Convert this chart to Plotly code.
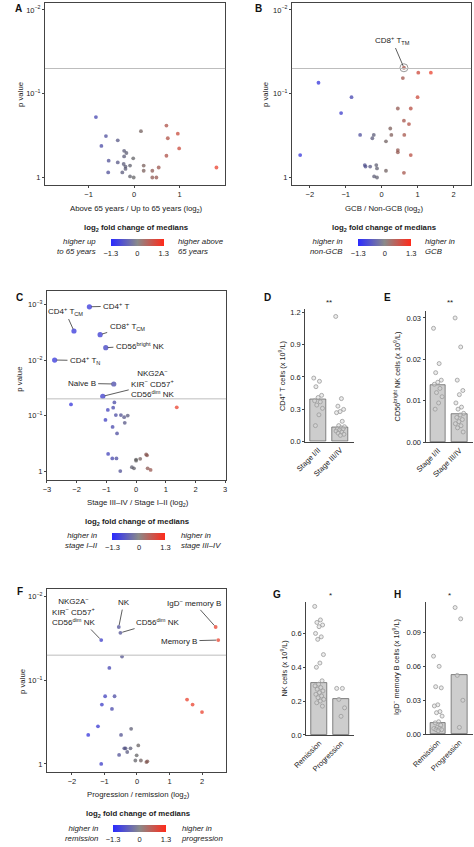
import numpy as np
import plotly.graph_objects as go

W, H = 474, 847
FONT = "Liberation Sans, Arial, sans-serif"


def fx(p):
    return p / W


def fy(p):
    return 1 - p / H


# ---------------- data ----------------
# Panel A: age
A_fc = [-0.84, -0.62, -0.72, -0.36, -0.56, -0.57, -0.36, -0.26, -0.22, -0.17, -0.22, -0.02, -0.23,
        -0.19, -0.09, -0.19, -0.09, -0.01, 0.15, 0.21, 0.21, 0.40, 0.40, 0.49, 0.54, 0.71, 0.74,
        0.71, 0.96, 0.99, 1.81]
A_p = [0.19, 0.32, 0.42, 0.36, 0.63, 0.87, 0.66, 0.87, 0.48, 0.51, 0.56, 0.59, 0.69, 0.74, 0.72,
       0.79, 0.97, 1.0, 0.28, 0.72, 0.83, 0.83, 1.0, 1.0, 0.76, 0.24, 0.34, 0.55, 0.30, 0.45, 0.76]

# Panel B: GCB / non-GCB
B_fc = [0.62, 1.02, 1.37, 0.59, -1.76, -0.84, 1.00, -1.13, 0.45, 0.81, 0.62, 0.76, 0.24, -0.60,
        -0.22, -0.26, 0.27, 0.63, 0.12, 0.45, 0.45, -2.27, 0.81, -0.47, -0.45, -0.32, -0.15, -0.13,
        0.12, 0.62, -0.21, -0.13]
B_p = [0.049, 0.056, 0.056, 0.065, 0.074, 0.11, 0.11, 0.17, 0.15, 0.15, 0.21, 0.23, 0.26, 0.31,
       0.31, 0.34, 0.31, 0.31, 0.37, 0.47, 0.50, 0.54, 0.54, 0.71, 0.74, 0.74, 0.71, 0.78, 0.83,
       0.88, 0.97, 1.0]
B_labels = ["CD8<sup>+</sup> T<sub>TM</sub>"] + [""] * 31

# Panel C: stage
C_fc = [-1.57, -2.09, -1.21, -1.02, -2.74, -0.75, -1.12, -2.19, -0.73, -0.77, -0.95, -0.68, -0.51,
        -0.40, -0.28, -1.03, -0.38, -0.79, -0.64, 1.37, -0.94, -0.80, -0.66, -0.53, -0.14, -0.07,
        0.00, 0.00, 0.14, 0.34, 0.37, 0.39, 0.49]
C_p = [0.0011, 0.0030, 0.0035, 0.0060, 0.010, 0.027, 0.045, 0.063, 0.058, 0.072, 0.079, 0.098,
       0.098, 0.107, 0.10, 0.12, 0.135, 0.16, 0.21, 0.071, 0.49, 0.59, 0.59, 1.0, 0.85, 0.89, 0.62,
       0.65, 0.60, 0.50, 0.52, 0.89, 0.95]
C_labels = ["CD4<sup>+</sup> T", "CD4<sup>+</sup> T<sub>CM</sub>", "CD8<sup>+</sup> T<sub>CM</sub>",
            "CD56<sup>bright</sup> NK", "CD4<sup>+</sup> T<sub>N</sub>", "Naive B",
            "NKG2A<sup>−</sup><br>KIR<sup>−</sup> CD57<sup>+</sup><br>CD56<sup>dim</sup> NK"]

# Panel F: progression / remission
F_fc = [2.42, 2.50, -0.56, -0.51, -1.10, -0.46, -0.85, -0.98, -0.69, -1.08, -0.77, -1.20, -1.50,
        -0.49, -0.18, -0.39, -0.35, -0.20, 0.04, -0.30, -0.55, -0.01, -0.05, 0.12, 0.29, 0.32, -1.10,
        1.54, 1.71, 2.00]
F_p = [0.023, 0.033, 0.023, 0.027, 0.033, 0.052, 0.071, 0.155, 0.155, 0.195, 0.22, 0.355, 0.45,
       0.45, 0.38, 0.65, 0.65, 0.65, 0.60, 0.72, 0.78, 0.79, 0.91, 0.91, 0.95, 0.93, 1.0, 0.17,
       0.195, 0.24]
F_labels = ["IgD<sup>−</sup> memory B", "Memory B", "NK", "CD56<sup>dim</sup> NK",
            "NKG2A<sup>−</sup><br>KIR<sup>−</sup> CD57<sup>+</sup><br>CD56<sup>dim</sup> NK"]

# Bar panels (medians and individual values)
D_cats = ["Stage I/II", "Stage III/IV"]
D_bar = [0.39, 0.13]
D_g1 = [0.59, 0.56, 0.51, 0.43, 0.41, 0.38, 0.37, 0.34, 0.31, 0.25, 0.15]
D_g2 = [1.16, 0.40, 0.33, 0.30, 0.28, 0.27, 0.19, 0.15, 0.14, 0.13, 0.12, 0.12, 0.11, 0.10, 0.09,
        0.08, 0.07, 0.06]

E_cats = ["Stage I/II", "Stage III/IV"]
E_bar = [0.0139, 0.0068]
E_g1 = [0.0275, 0.019, 0.0168, 0.015, 0.0145, 0.0140, 0.013, 0.012, 0.011, 0.0095, 0.008]
E_g2 = [0.030, 0.023, 0.015, 0.0125, 0.0115, 0.0095, 0.0085, 0.0080, 0.0070, 0.0066, 0.0060,
        0.0055, 0.0050, 0.0045, 0.0040, 0.0035, 0.0025]

G_cats = ["Remission", "Progression"]
G_bar = [0.307, 0.211]
G_g1 = [0.76, 0.68, 0.665, 0.65, 0.64, 0.60, 0.58, 0.565, 0.475, 0.425, 0.40, 0.32, 0.30, 0.29,
        0.28, 0.27, 0.26, 0.25, 0.24, 0.23, 0.22, 0.21, 0.20, 0.19, 0.17]
G_g2 = [0.275, 0.275, 0.21, 0.16, 0.11]

H_cats = ["Remission", "Progression"]
H_bar = [0.0099, 0.052]
H_g1 = [0.069, 0.060, 0.042, 0.041, 0.026, 0.025, 0.020, 0.019, 0.016, 0.011, 0.010, 0.008,
        0.006, 0.005, 0.005, 0.004, 0.004, 0.003]
H_g2 = [0.112, 0.102, 0.052, 0.030, 0.006]

CB_TICKS = [-1.3, 0, 1.3]
CB_TEXT = ["−1.3", "0", "1.3"]

# ---------------- figure ----------------
fig = go.Figure()
BAR_SCALE = [[0, "#2a2aff"], [0.5, "#8a8a8a"], [1, "#ff2a1a"]]
PT_SCALE = [[0, "#2626d8"], [0.5, "#5a5a5a"], [1, "#e8341f"]]
LINE = "#444444"
TICK = 7.5
TITLE = 7.8


def nlog(p):
    return [-np.log10(v) for v in p]


def minus(v):
    return ("−" + str(abs(v))) if v < 0 else str(v)


volcano = [  # (fc, p, xaxis id, coloraxis)
    (A_fc, A_p, "", "coloraxis"),
    (B_fc, B_p, "2", "coloraxis2"),
    (C_fc, C_p, "3", "coloraxis3"),
    (F_fc, F_p, "6", "coloraxis4"),
]
for fc, p, ax, ca in volcano:
    sizes = [3.8] * len(fc)
    if ax == "3":
        sizes = [5.2] * len(C_labels) + [3.8] * (len(fc) - len(C_labels))
    fig.add_trace(go.Scatter(
        x=fc, y=nlog(p), mode="markers", xaxis="x" + ax, yaxis="y" + ax,
        marker=dict(color=fc, colorscale=PT_SCALE, cmin=-1.3, cmax=1.3, size=sizes,
                    line=dict(width=0)),
        showlegend=False, hoverinfo="skip"))
    # invisible trace carrying the colour bar
    fig.add_trace(go.Scatter(
        x=[fc[0]], y=nlog([p[0]]), mode="markers", xaxis="x" + ax, yaxis="y" + ax,
        marker=dict(color=[fc[0]], coloraxis=ca, opacity=0, size=1),
        showlegend=False, hoverinfo="skip"))

# ring around labelled point in B
fig.add_trace(go.Scatter(
    x=[B_fc[0]], y=nlog([B_p[0]]), mode="markers", xaxis="x2", yaxis="y2",
    marker=dict(symbol="circle-open", size=8, color="#999999", line=dict(width=1)),
    showlegend=False, hoverinfo="skip"))


def jitter(n, spread=0.42):
    return [((i * 0.6180339) % 1 - 0.5) * spread for i in range(n)]


bars = [
    (D_bar, D_g1, D_g2, "4"),
    (E_bar, E_g1, E_g2, "5"),
    (G_bar, G_g1, G_g2, "7"),
    (H_bar, H_g1, H_g2, "8"),
]
for bar, g1, g2, ax in bars:
    fig.add_trace(go.Bar(
        x=[0, 1], y=bar, width=0.73, xaxis="x" + ax, yaxis="y" + ax,
        marker=dict(color="#cdcdcd", line=dict(color="#666666", width=0.8)),
        showlegend=False, hoverinfo="skip"))
    xs = [0 + j for j in jitter(len(g1))] + [1 + j for j in jitter(len(g2))]
    fig.add_trace(go.Scatter(
        x=xs, y=g1 + g2, mode="markers", xaxis="x" + ax, yaxis="y" + ax,
        marker=dict(symbol="circle", size=4, color="rgba(215,215,215,0.5)",
                    line=dict(color="#9a9a9a", width=0.8)),
        showlegend=False, hoverinfo="skip"))

# ---------------- axes ----------------
common = dict(showline=True, linecolor=LINE, linewidth=1, ticks="outside", ticklen=2,
              tickcolor=LINE, tickwidth=1, showgrid=False, zeroline=False,
              tickfont=dict(size=TICK, color="#222222", family=FONT))

ylog_text = {0: "1", 1: "10<sup>−1</sup>", 2: "10<sup>−2</sup>", 3: "10<sup>−3</sup>"}

vol_axes = {
    # id: (x_px0, x_px1, y_px_top, y_px_bottom, xrange, yrange, xticks, yticks)
    "": (32, 218, 1, 185, [-1.96, 2.0], [-0.095, 2.083], [-1, 0, 1], [0, 1, 2]),
    "2": (287, 472, 1, 185, [-2.5, 2.49], [-0.095, 2.083], [-2, -1, 0, 1, 2], [0, 1, 2]),
    "3": (34, 219, 291, 481.7, [-3.0, 3.03], [-0.155, 3.25], [-3, -2, -1, 0, 1, 2, 3], [0, 1, 2, 3]),
    "6": (34, 219, 591.7, 776.7, [-2.77, 2.74], [-0.1, 2.095], [-2, -1, 0, 1, 2], [0, 1, 2]),
}
layout_axes = {}
for k, (x0, x1, yt, yb, xr, yr, xt, yt_) in vol_axes.items():
    layout_axes["xaxis" + k] = dict(common, domain=[fx(x0), fx(x1)], range=xr, mirror=True,
                                    anchor="y" + k, tickvals=xt, ticktext=[minus(v) for v in xt])
    layout_axes["yaxis" + k] = dict(common, domain=[fy(yb), fy(yt)], range=yr, mirror=True,
                                    anchor="x" + k, tickvals=yt_, ticktext=[ylog_text[v] for v in yt_])

bar_axes = {
    "4": (300.7, 350.6, 310, 443.5, [-0.6, 1.6], [0, 1.225], D_cats, [0, 0.3, 0.6, 0.9, 1.2], ["0.0", "0.3", "0.6", "0.9", "1.2"]),
    "5": (425, 474, 311.7, 444, [-0.58, 1.62], [0, 0.03165], E_cats, [0, 0.01, 0.02, 0.03], ["0.00", "0.01", "0.02", "0.03"]),
    "7": (301.7, 351.6, 605, 739, [-0.6, 1.6], [0, 0.786], G_cats, [0, 0.2, 0.4, 0.6], ["0.0", "0.2", "0.4", "0.6"]),
    "8": (425, 474, 605, 738.3, [-0.58, 1.62], [0, 0.1169], H_cats, [0, 0.03, 0.06, 0.09], ["0.00", "0.03", "0.06", "0.09"]),
}
for k, (x0, x1, yt, yb, xr, yr, cats, ytv, ytt) in bar_axes.items():
    layout_axes["xaxis" + k] = dict(common, domain=[fx(x0), fx(x1)], range=xr, anchor="y" + k,
                                    tickvals=[0, 1], ticktext=cats, tickangle=-45, ticks="")
    layout_axes["yaxis" + k] = dict(common, domain=[fy(yb), fy(yt)], range=yr, anchor="x" + k,
                                    tickvals=ytv, ticktext=ytt)


# ---------------- colour bars ----------------
def cbar(x_px, y_px):
    return dict(cmin=-1.3, cmax=1.3, colorscale=BAR_SCALE,
                colorbar=dict(orientation="h", x=fx(x_px), xanchor="left", y=fy(y_px),
                              yanchor="top", len=53, lenmode="pixels", thickness=7,
                              xpad=0, ypad=0, outlinewidth=0, ticks="", tickvals=CB_TICKS,
                              ticktext=CB_TEXT,
                              tickfont=dict(size=TICK, color="#222222", family=FONT)))


# ---------------- annotations ----------------
ann = []


def txt(x, y, text, size=TITLE, xanchor="center", align="center", angle=0, color="#222222"):
    ann.append(dict(x=fx(x), y=fy(y), xref="paper", yref="paper", text=text, showarrow=False,
                    xanchor=xanchor, yanchor="middle", align=align, textangle=angle,
                    font=dict(size=size, color=color, family=FONT)))


# panel letters
for letter, (x, y) in {"A": (5, 7), "B": (252, 7), "C": (6, 298), "D": (262, 298),
                       "E": (386, 298), "F": (6, 594), "G": (272, 597), "H": (396, 597)}.items():
    txt(x, y, "<b>" + letter + "</b>", size=10, color="#111111")

# p value titles
for x, y in [(6, 93), (259, 93), (6, 380), (9, 685)]:
    txt(x, y, "p value", angle=-90)

# x titles, colorbar titles and captions
legends = [
    (126.7, 209, "Above 65 years / Up to 65 years (log<sub>2</sub>)", 228, 87, 167.5, 247,
     "higher up<br>to 65 years", "higher above<br>65 years"),
    (382.5, 209, "GCB / Non-GCB (log<sub>2</sub>)", 228, 341.5, 422.5, 247,
     "higher in<br>non-GCB", "higher in<br>GCB"),
    (128, 505, "Stage III–IV / Stage I–II (log<sub>2</sub>)", 524, 89, 170, 543,
     "higher in<br>stage I–II", "higher in<br>stage III–IV"),
    (129, 800, "Progression / remission (log<sub>2</sub>)", 819, 88.5, 170, 838,
     "higher in<br>remission", "higher in<br>progression"),
]
for (xc, yx, xt, ycb, xl, xr, ylr, tl, tr) in legends:
    txt(xc, yx, xt)
    txt(xc, ycb, "<b>log<sub>2</sub> fold change of medians</b>")
    txt(xl, ylr, "<i>" + tl + "</i>", xanchor="right", align="right")
    txt(xr, ylr, "<i>" + tr + "</i>", xanchor="left", align="left")

# bar y titles & stars
txt(277, 377, "CD4<sup>+</sup> T cells (x 10<sup>9</sup>/L)", angle=-90, size=7.3)
txt(395, 378, "CD56<sup>bright</sup> NK cells (x 10<sup>9</sup>/L)", angle=-90, size=7.3)
txt(279, 672, "NK cells (x 10<sup>9</sup>/L)", angle=-90, size=7.3)
txt(395, 671, "IgD<sup>−</sup> memory B cells (x 10<sup>9</sup>/L)", angle=-90, size=7.3)
txt(325, 303, "**", size=8)
txt(450, 303, "**", size=8)
txt(327, 598, "*", size=8)
txt(450, 598, "*", size=8)


def label(ax, fc, p, text, tx, ty):
    ann.append(dict(x=fc, y=-np.log10(p), xref="x" + ax, yref="y" + ax, text=text,
                    showarrow=True, arrowhead=0, arrowwidth=0.8, arrowcolor="#333333",
                    ax=tx, ay=ty, axref="x" + ax, ayref="y" + ax, standoff=2, startstandoff=1,
                    font=dict(size=8, color="#222222", family=FONT), align="center"))


# text positions (data units) for labels
C_text_pos = [(-0.67, 2.97), (-2.39, 2.88), (-0.30, 2.61), (0.13, 2.26), (-1.72, 1.99),
              (-1.83, 1.58), (0.56, 1.57)]
for i, (tx, ty) in enumerate(C_text_pos):
    label("3", C_fc[i], C_p[i], C_labels[i], tx, ty)

F_text_pos = [(1.75, 1.93), (1.29, 1.47), (-0.41, 1.93), (0.63, 1.70), (-1.94, 1.82)]
for i, (tx, ty) in enumerate(F_text_pos):
    label("6", F_fc[i], F_p[i], F_labels[i], tx, ty)

label("2", B_fc[0], B_p[0], B_labels[0], 0.29, 1.64)

# significance lines at p = 0.05
shapes = []
for k in ["", "2", "3", "6"]:
    shapes.append(dict(type="line", xref="x" + k + " domain", yref="y" + k, x0=0, x1=1,
                       y0=-np.log10(0.05), y1=-np.log10(0.05),
                       line=dict(color="#bdbdbd", width=1)))

fig.update_layout(
    width=W, height=H, margin=dict(l=0, r=0, t=0, b=0),
    paper_bgcolor="white", plot_bgcolor="white",
    font=dict(family=FONT, size=7, color="#222222"),
    coloraxis=cbar(100, 239), coloraxis2=cbar(355.5, 239),
    coloraxis3=cbar(101.7, 535), coloraxis4=cbar(102.3, 830),
    annotations=ann, shapes=shapes, bargap=0,
    **layout_axes,
)

fig.write_html("out.html", config={"displayModeBar": False},
               post_script="document.body.style.margin='0px';document.body.style.overflow='hidden';")
